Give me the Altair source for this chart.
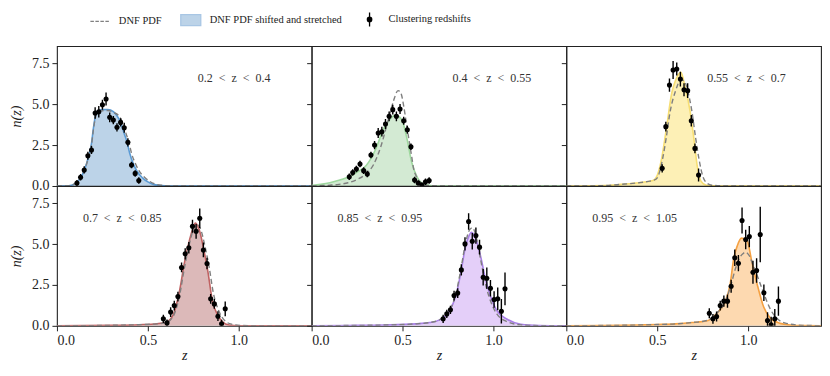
import altair as alt
import pandas as pd

SERIF = "Liberation Serif"
XMAX = 1.4
YMAX = 8.55

# ---------------- panel labels & colours ----------------
ES = "\u2002"
LABELS = [f"0.2{ES}<{ES}z{ES}<{ES}0.4", f"0.4{ES}<{ES}z{ES}<{ES}0.55", f"0.55{ES}<{ES}z{ES}<{ES}0.7",
          f"0.7{ES}<{ES}z{ES}<{ES}0.85", f"0.85{ES}<{ES}z{ES}<{ES}0.95", f"0.95{ES}<{ES}z{ES}<{ES}1.05"]
FILLS = ["#bcd3e8", "#d3ead3", "#fdf0b6", "#dcb9b9", "#e4cff9", "#fdd9b0"]
LINES = ["#5b9bd5", "#9fd89f", "#f7de73", "#c06262", "#a980e6", "#f5a142"]

# ---------------- DNF PDF shifted and stretched (filled) ----------------
SHIFT_Z = [
    [0.0, 0.05, 0.08, 0.10, 0.13, 0.15, 0.17, 0.19, 0.20, 0.21, 0.22, 0.25, 0.28, 0.31, 0.33, 0.35, 0.37, 0.385, 0.40, 0.42, 0.44, 0.47, 0.50, 0.53, 0.57, 0.62, 1.40],
    [0.0, 0.05, 0.10, 0.15, 0.21, 0.25, 0.30, 0.35, 0.40, 0.44, 0.46, 0.48, 0.50, 0.525, 0.55, 0.58, 0.62, 0.68, 1.40],
    [0.0, 0.1, 0.2, 0.3, 0.4, 0.45, 0.48, 0.50, 0.52, 0.55, 0.58, 0.60, 0.63, 0.65, 0.68, 0.70, 0.72, 0.74, 0.77, 0.85, 1.4],
    [0.0, 0.3, 0.45, 0.55, 0.60, 0.64, 0.675, 0.70, 0.73, 0.746, 0.761, 0.783, 0.81, 0.83, 0.855, 0.882, 0.91, 0.946, 1.0, 1.4],
    [0.0, 0.2, 0.4, 0.57, 0.65, 0.70, 0.757, 0.794, 0.821, 0.845, 0.865, 0.879, 0.903, 0.93, 0.957, 0.984, 1.02, 1.075, 1.15, 1.25, 1.4],
    [0.0, 0.2, 0.4, 0.5, 0.6, 0.69, 0.78, 0.83, 0.87, 0.90, 0.92, 0.94, 0.963, 0.994, 1.02, 1.05, 1.085, 1.12, 1.175, 1.23, 1.3, 1.4],
]
SHIFT_N = [
    [0.0, 0.0, 0.05, 0.15, 0.5, 0.95, 1.65, 2.6, 3.5, 4.2, 4.55, 4.67, 4.68, 4.55, 4.3, 3.9, 3.2, 2.7, 2.0, 1.35, 0.9, 0.5, 0.25, 0.1, 0.03, 0.0, 0.0],
    [0.03, 0.1, 0.2, 0.35, 0.6, 0.85, 1.25, 2.2, 3.6, 4.2, 4.35, 4.25, 3.95, 2.85, 1.45, 0.55, 0.1, 0.0, 0.0],
    [0.0, 0.0, 0.02, 0.1, 0.2, 0.28, 0.35, 0.65, 1.45, 3.5, 5.7, 6.45, 6.95, 6.2, 4.6, 3.0, 1.2, 0.3, 0.05, 0.0, 0.0],
    [0.0, 0.03, 0.07, 0.13, 0.22, 0.7, 2.2, 3.8, 5.3, 5.9, 6.28, 5.85, 4.5, 3.3, 1.5, 0.7, 0.25, 0.05, 0.0, 0.0],
    [0.0, 0.02, 0.05, 0.12, 0.2, 0.35, 0.9, 1.9, 3.3, 4.8, 5.5, 5.72, 5.3, 4.2, 2.8, 1.8, 0.9, 0.4, 0.1, 0.02, 0.0],
    [0.0, 0.02, 0.05, 0.08, 0.12, 0.2, 0.33, 0.8, 1.4, 2.5, 4.1, 4.9, 5.36, 5.2, 3.9, 2.5, 1.15, 0.5, 0.15, 0.05, 0.01, 0.0],
]

# ---------------- DNF PDF (dashed) ----------------
DNF_Z = [
    [0.0, 0.05, 0.08, 0.10, 0.13, 0.15, 0.17, 0.19, 0.20, 0.21, 0.22, 0.25, 0.28, 0.31, 0.34, 0.36, 0.38, 0.395, 0.41, 0.43, 0.45, 0.48, 0.51, 0.54, 0.58, 0.63, 1.40],
    [0.0, 0.10, 0.15, 0.20, 0.25, 0.30, 0.34, 0.38, 0.42, 0.45, 0.475, 0.49, 0.506, 0.52, 0.534, 0.55, 0.56, 0.575, 0.59, 0.625, 0.70, 1.40],
    [0.0, 0.1, 0.2, 0.3, 0.4, 0.45, 0.48, 0.50, 0.53, 0.55, 0.57, 0.60, 0.63, 0.65, 0.67, 0.69, 0.71, 0.73, 0.75, 0.77, 0.80, 0.9, 1.4],
    [0.0, 0.3, 0.45, 0.55, 0.60, 0.64, 0.675, 0.70, 0.73, 0.75, 0.77, 0.79, 0.815, 0.835, 0.86, 0.89, 0.92, 0.96, 1.02, 1.1, 1.4],
    [0.0, 0.2, 0.4, 0.57, 0.65, 0.70, 0.757, 0.794, 0.821, 0.845, 0.87, 0.885, 0.905, 0.93, 0.957, 0.984, 1.02, 1.075, 1.15, 1.25, 1.4],
    [0.0, 0.2, 0.4, 0.5, 0.6, 0.69, 0.78, 0.83, 0.87, 0.90, 0.93, 0.95, 0.975, 0.986, 1.005, 1.03, 1.05, 1.085, 1.12, 1.16, 1.2, 1.3, 1.4],
]
DNF_N = [
    [0.0, 0.0, 0.05, 0.15, 0.5, 0.95, 1.6, 2.5, 3.4, 4.1, 4.45, 4.6, 4.62, 4.5, 4.3, 3.9, 3.2, 2.7, 2.0, 1.4, 0.95, 0.55, 0.28, 0.12, 0.04, 0.0, 0.0],
    [0.0, 0.05, 0.1, 0.2, 0.4, 0.75, 1.3, 2.4, 4.0, 5.2, 5.83, 5.7, 4.9, 3.9, 2.9, 1.8, 1.1, 0.6, 0.3, 0.05, 0.0, 0.0],
    [0.0, 0.0, 0.02, 0.1, 0.2, 0.28, 0.35, 0.5, 1.7, 3.0, 4.5, 5.8, 6.5, 6.4, 5.7, 4.6, 3.0, 1.6, 0.6, 0.2, 0.05, 0.0, 0.0],
    [0.0, 0.03, 0.07, 0.12, 0.2, 0.6, 1.9, 3.5, 5.1, 5.9, 6.2, 5.9, 4.8, 3.7, 2.0, 0.9, 0.35, 0.1, 0.02, 0.0, 0.0],
    [0.0, 0.02, 0.05, 0.12, 0.2, 0.35, 0.9, 2.0, 3.5, 5.0, 5.9, 6.0, 5.4, 4.0, 2.5, 1.5, 0.7, 0.25, 0.06, 0.01, 0.0],
    [0.0, 0.02, 0.05, 0.08, 0.12, 0.2, 0.35, 0.8, 1.4, 2.3, 3.5, 4.1, 4.45, 4.5, 4.3, 3.6, 3.05, 2.0, 1.05, 0.43, 0.18, 0.03, 0.01],
]

# ---------------- clustering redshifts (points with error bars) ----------------
PT_Z = [
    [0.11, 0.13, 0.15, 0.17, 0.19, 0.21, 0.23, 0.25, 0.27, 0.29, 0.31, 0.33, 0.35, 0.37, 0.39, 0.41, 0.43, 0.45],
    [0.207, 0.226, 0.246, 0.266, 0.286, 0.306, 0.326, 0.346, 0.366, 0.386, 0.406, 0.426, 0.446, 0.466, 0.486, 0.506, 0.526, 0.546, 0.566, 0.586, 0.606, 0.626, 0.646],
    [0.527, 0.547, 0.567, 0.587, 0.607, 0.627, 0.647, 0.667, 0.687, 0.707, 0.727],
    [0.585, 0.605, 0.625, 0.645, 0.665, 0.685, 0.705, 0.725, 0.745, 0.765, 0.785, 0.805, 0.825, 0.845, 0.865, 0.885, 0.905, 0.925],
    [0.723, 0.743, 0.763, 0.783, 0.803, 0.823, 0.843, 0.863, 0.883, 0.903, 0.923, 0.943, 0.963, 0.983, 1.003, 1.023, 1.043, 1.063],
    [0.786, 0.806, 0.826, 0.846, 0.866, 0.886, 0.906, 0.926, 0.946, 0.966, 0.986, 1.006, 1.026, 1.046, 1.066, 1.086, 1.106, 1.126, 1.146, 1.166],
]
PT_N = [
    [0.18, 0.53, 0.98, 1.85, 2.2, 4.46, 4.54, 4.97, 5.32, 4.2, 4.03, 3.59, 3.89, 3.56, 2.67, 1.28, 0.77, 0.33],
    [0.57, 0.83, 1.04, 1.34, 0.94, 0.73, 1.9, 2.5, 3.24, 3.32, 3.79, 4.26, 4.67, 4.26, 4.71, 3.99, 3.44, 2.4, 0.37, 0.18, 0.06, 0.26, 0.33],
    [1.08, 3.63, 6.17, 7.09, 7.15, 6.54, 5.89, 5.83, 3.99, 2.3, 0.67],
    [0.43, 0.18, 0.84, 1.24, 1.79, 3.57, 4.4, 4.77, 6.09, 5.78, 6.58, 4.64, 3.81, 1.65, 1.34, 0.59, 0.12, 1.04],
    [0.43, 0.73, 0.98, 1.85, 2.0, 3.42, 5.01, 6.38, 5.17, 5.52, 4.81, 2.97, 2.91, 2.3, 1.61, 1.65, 0.89, 2.26],
    [0.77, 0.43, 0.57, 1.24, 1.51, 1.51, 2.42, 4.16, 3.83, 6.44, 5.28, 5.46, 3.28, 3.38, 5.58, 2.02, 0.33, 0.06, 0.43, 1.51],
]
PT_ERR = [
    [0.18, 0.2, 0.22, 0.25, 0.25, 0.35, 0.35, 0.3, 0.4, 0.3, 0.25, 0.25, 0.25, 0.3, 0.25, 0.2, 0.2, 0.2],
    [0.2, 0.2, 0.2, 0.2, 0.2, 0.2, 0.2, 0.25, 0.3, 0.3, 0.3, 0.3, 0.3, 0.3, 0.3, 0.25, 0.25, 0.2, 0.2, 0.15, 0.15, 0.2, 0.2],
    [0.25, 0.3, 0.4, 0.55, 0.4, 0.45, 0.4, 0.45, 0.35, 0.3, 0.4],
    [0.25, 0.2, 0.3, 0.3, 0.3, 0.3, 0.35, 0.35, 0.4, 0.45, 0.6, 0.45, 0.35, 0.3, 0.3, 0.3, 0.25, 0.45],
    [0.25, 0.25, 0.25, 0.3, 0.3, 0.35, 0.4, 0.5, 0.5, 0.5, 0.45, 0.5, 0.65, 0.5, 0.5, 0.7, 0.75, 1.0],
    [0.3, 0.3, 0.3, 0.3, 0.35, 0.4, 0.4, 0.5, 0.5, 0.8, 0.6, 0.65, 0.7, 0.75, 1.7, 0.5, 0.5, 0.5, 0.6, 0.9],
]

# ---------------- legend ----------------
LEG_NAMES = ["DNF PDF", "DNF PDF shifted and stretched", "Clustering redshifts"]
LEG_SHAPES = [
    "M-0.95,0L-0.6,0M-0.45,0L-0.1,0M0.05,0L0.4,0M0.55,0L0.9,0",
    "M-1,-0.55L1,-0.55L1,0.55L-1,0.55Z",
    "M0,-0.7L0,0.7M-0.22,0A0.22,0.22,0,1,0,0.22,0A0.22,0.22,0,1,0,-0.22,0Z",
]
LEG_FILLS = ["transparent", FILLS[0], "#000000"]
LEG_STROKES = ["#808080", "#a8c6e4", "#000000"]

PANEL_W = 255
PANEL_H = 140

xscale = alt.Scale(domain=[0, XMAX], nice=False, zero=False)
yscale = alt.Scale(domain=[0, YMAX], nice=False)


def panel(i):
    row, col = divmod(i, 3)
    if row == 1:
        xaxis = alt.Axis(values=[0.0, 0.5, 1.0], format=".1f", title="z", grid=False, titlePadding=1)
    else:
        xaxis = None
    if col == 0:
        yaxis = alt.Axis(values=[0.0, 2.5, 5.0, 7.5], format=".1f", title="n(z)", grid=False, titlePadding=8)
    else:
        yaxis = alt.Axis(values=[0.0, 2.5, 5.0, 7.5], labels=False, title=None, grid=False)

    sh = pd.DataFrame({"z": SHIFT_Z[i], "n": SHIFT_N[i]})
    dn = pd.DataFrame({"z": DNF_Z[i], "n": DNF_N[i]})
    pts = pd.DataFrame({"z": PT_Z[i], "n": PT_N[i], "err": PT_ERR[i]})
    pts["lo"] = pts["n"] - pts["err"]
    pts["hi"] = pts["n"] + pts["err"]

    X = alt.X("z:Q", scale=xscale, axis=xaxis)
    Y = alt.Y("n:Q", scale=yscale, axis=yaxis)

    area = alt.Chart(sh).mark_area(interpolate="monotone", color=FILLS[i], clip=True).encode(x=X, y=Y)
    edge = alt.Chart(sh).mark_line(interpolate="monotone", color=LINES[i], strokeWidth=1.6, clip=True).encode(x=X, y=Y)
    dash = alt.Chart(dn).mark_line(interpolate="monotone", color="#7f7f7f", strokeWidth=1.4,
                                   strokeDash=[5, 3], clip=True).encode(x=X, y=Y)
    bars = alt.Chart(pts).mark_rule(color="#000000", strokeWidth=1.4, clip=True).encode(
        x=X, y=alt.Y("lo:Q", scale=yscale, axis=yaxis), y2="hi:Q")
    dots = alt.Chart(pts).mark_point(filled=True, color="#000000", size=26, opacity=1, clip=True).encode(x=X, y=Y)

    tx = 141 if row == 0 else 26
    label = alt.Chart(pd.DataFrame({"label": [LABELS[i]]})).mark_text(
        align="left", baseline="middle", font=SERIF, fontSize=12, color="#333333"
    ).encode(x=alt.value(tx), y=alt.value(32), text="label:N")

    layers = [area, edge, dash, bars, dots, label]
    if i == 0:
        leg_def = alt.Legend(title=None, orient="none", legendX=32, legendY=-38, direction="horizontal",
                             columns=3, symbolSize=400, symbolStrokeWidth=1.3, labelFont=SERIF,
                             labelFontSize=10.5, labelOffset=8, columnPadding=16, symbolOpacity=1,
                             padding=0, labelColor="#222222")
        dummy = alt.Chart(pd.DataFrame({"leg": LEG_NAMES})).mark_point(filled=True, opacity=0).encode(
            shape=alt.Shape("leg:N", scale=alt.Scale(domain=LEG_NAMES, range=LEG_SHAPES), legend=leg_def),
            fill=alt.Fill("leg:N", scale=alt.Scale(domain=LEG_NAMES, range=LEG_FILLS), legend=leg_def),
            stroke=alt.Stroke("leg:N", scale=alt.Scale(domain=LEG_NAMES, range=LEG_STROKES), legend=leg_def),
        )
        layers.append(dummy)
    return alt.layer(*layers).properties(width=PANEL_W, height=PANEL_H)


chart = alt.concat(*[panel(i) for i in range(6)], columns=3, spacing=0, bounds="flush").properties(
    padding={"left": 0, "top": 0, "right": 0, "bottom": 0}
).configure_view(
    stroke="#222222", strokeWidth=1.1
).configure_axis(
    domain=False, grid=False, tickColor="#222222", tickSize=5, tickWidth=1,
    labelFont=SERIF, labelFontSize=14, labelColor="#222222", labelPadding=3,
    titleFont=SERIF, titleFontSize=14, titleFontStyle="italic", titleFontWeight="normal",
    titleColor="#222222", titlePadding=2
)

chart.save("out.html", embed_options={"renderer": "svg", "actions": False})
